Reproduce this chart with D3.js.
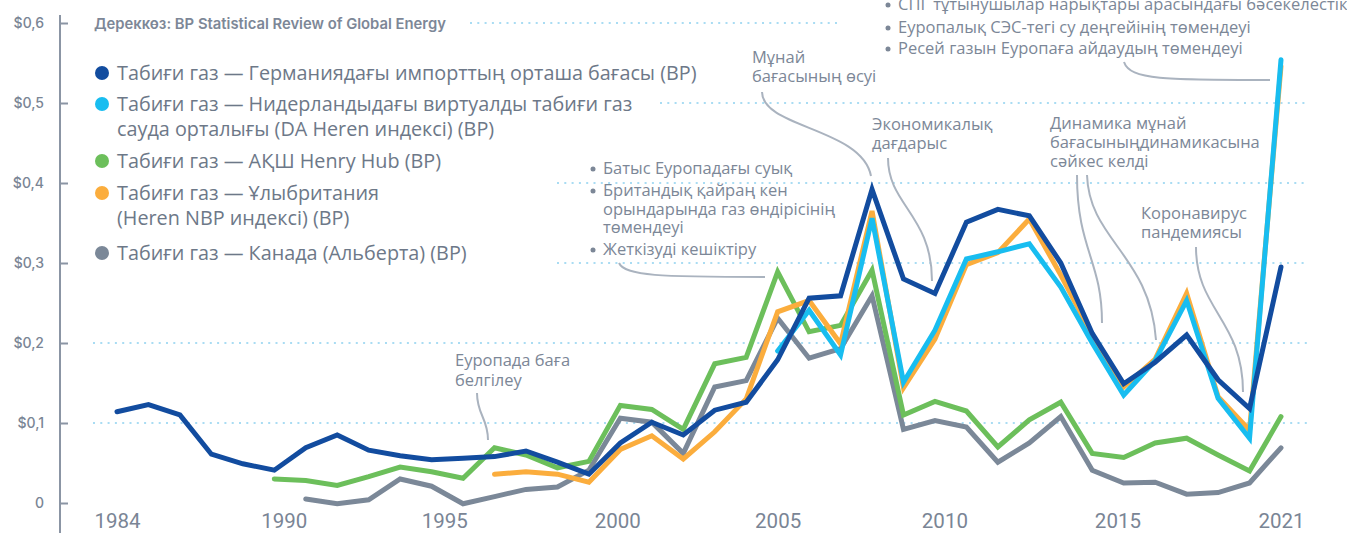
<!DOCTYPE html>
<html>
<head>
<meta charset="utf-8">
<script src="https://cdn.jsdelivr.net/npm/d3@7"></script>
<style>
  body { margin: 0; background: #fff; }
  svg { display: block; }
  .note { font-family: "Open Sans", sans-serif; font-size: 16.5px; fill: #7c8797; }
  .legend text { font-family: "Open Sans", sans-serif; font-size: 19.8px; fill: #6d7888; }
</style>
</head>
<body>
<div id="chart-area"></div>
<script>
// years on the x axis
const years = d3.range(1984, 2022);

// prices, $; null = no data
const germany = [0.114, 0.123, 0.110, 0.061, 0.049, 0.041, 0.069, 0.085, 0.066, 0.059,
  0.054, 0.056, 0.058, 0.065, 0.051, 0.036, 0.075, 0.101, 0.085, 0.116,
  0.126, 0.179, 0.256, 0.259, 0.392, 0.280, 0.262, 0.351, 0.367, 0.359,
  0.300, 0.212, 0.149, 0.176, 0.210, 0.154, 0.118, 0.295];
const netherlands = [null, null, null, null, null, null, null, null, null, null,
  null, null, null, null, null, null, null, null, null, null,
  null, 0.190, 0.241, 0.185, 0.356, 0.151, 0.216, 0.305, 0.314, 0.324,
  0.270, 0.200, 0.135, 0.178, 0.253, 0.131, 0.081, 0.554];
const henryHub = [null, null, null, null, null, 0.030, 0.028, 0.022, 0.033, 0.045,
  0.039, 0.031, 0.069, 0.060, 0.044, 0.052, 0.122, 0.117, 0.092, 0.174,
  0.182, 0.289, 0.214, 0.222, 0.291, 0.110, 0.127, 0.115, 0.070, 0.104,
  0.126, 0.062, 0.057, 0.075, 0.081, 0.060, 0.040, 0.108];
const ukNbp = [null, null, null, null, null, null, null, null, null, null,
  null, null, 0.036, 0.039, 0.036, 0.026, 0.067, 0.084, 0.055, 0.089,
  0.130, 0.239, 0.253, 0.199, 0.365, 0.144, 0.205, 0.298, 0.313, 0.355,
  0.285, 0.210, 0.145, 0.180, 0.262, 0.133, 0.091, 0.546];
const canada = [null, null, null, null, null, null, 0.005, -0.001, 0.004, 0.030,
  0.021, -0.001, 0.008, 0.017, 0.020, 0.041, 0.106, 0.101, 0.062, 0.145,
  0.153, 0.231, 0.181, 0.193, 0.259, 0.092, 0.103, 0.095, 0.051, 0.075,
  0.108, 0.041, 0.025, 0.026, 0.011, 0.013, 0.025, 0.069];

const seriesNames = [
  ["Табиғи газ — Германиядағы импорттың орташа бағасы (BP)"],
  ["Табиғи газ — Нидерландыдағы виртуалды табиғи газ", "сауда орталығы (DA Heren индексі) (BP)"],
  ["Табиғи газ — АҚШ Henry Hub (BP)"],
  ["Табиғи газ — Ұлыбритания", "(Heren NBP индексі) (BP)"],
  ["Табиғи газ — Канада (Альберта) (BP)"]
];
const seriesColors = ["#124c9f", "#18bdf0", "#6cbf5b", "#fbad3d", "#7b8898"];

const yTicks = [0, 0.1, 0.2, 0.3, 0.4, 0.5, 0.6];
const yTickLabels = ["0", "$0,1", "$0,2", "$0,3", "$0,4", "$0,5", "$0,6"];
// x labels, and where the picture puts them on the year scale
const xTickLabels = ["1984", "1990", "1995", "2000", "2005", "2010", "2015", "2021"];
const xTickAt = [1984, 1989.3, 1994.4, 1999.9, 2005, 2010.3, 2015.8, 2021];

const source = "Дереккөз: BP Statistical Review of Global Energy";

const width = 1347, height = 533;

const svg = d3.select("#chart-area")
  .append("svg")
  .attr("width", width)
  .attr("height", height);

let x = d3.scaleLinear().domain([1984, 2021]).range([117, 1281]);
let y = d3.scaleLinear().domain([0, 0.6]).range([503, 23]);

// ---- dotted grid ----
const gridFrom = {0.1: 93, 0.2: 93, 0.3: 557, 0.4: 557, 0.5: 660, 0.6: 470};
const gridTo = {0.1: 1308, 0.2: 1308, 0.3: 1308, 0.4: 1308, 0.5: 1308, 0.6: 840};
svg.append("g")
  .selectAll("line")
  .data(yTicks.filter(d => d > 0))
  .enter()
  .append("line")
  .attr("x1", d => gridFrom[d])
  .attr("x2", d => gridTo[d])
  .attr("y1", d => y(d))
  .attr("y2", d => y(d))
  .attr("stroke", "#a9dcf3")
  .attr("stroke-width", 2)
  .attr("stroke-dasharray", "2 5.3");

// ---- y axis ----
let yAxis = d3.axisLeft(y)
  .tickValues(yTicks)
  .tickSizeInner(-8)
  .tickSizeOuter(0)
  .tickPadding(16)
  .tickFormat((d, i) => yTickLabels[i]);

let yAxisGroup = svg.append("g")
  .attr("class", "y-axis")
  .attr("transform", "translate(60,0)")
  .call(yAxis);
yAxisGroup.select(".domain").remove();
yAxisGroup.selectAll(".tick line").attr("stroke", "#8b95a4").attr("stroke-width", 2);
yAxisGroup.selectAll(".tick text")
  .attr("fill", "#7a8595")
  .style("font-family", "Inter, sans-serif")
  .style("font-size", "14px")
  .style("font-weight", 500);
yAxisGroup.append("line")
  .attr("y1", 15).attr("y2", height)
  .attr("stroke", "#8b95a4").attr("stroke-width", 2);

// ---- x axis ----
let xAxis = d3.axisBottom(x)
  .tickValues(xTickAt)
  .tickSize(0)
  .tickFormat((d, i) => xTickLabels[i]);

let xAxisGroup = svg.append("g")
  .attr("class", "x-axis")
  .call(xAxis);
xAxisGroup.select(".domain").remove();
xAxisGroup.selectAll(".tick text")
  .attr("y", 528)
  .attr("dy", 0)
  .attr("fill", "#7a8595")
  .style("font-family", "Roboto, sans-serif")
  .style("font-size", "20.5px")
  .style("font-weight", 400);

// ---- annotation leaders ----
const leaders = [
  "M1124,62 C1130,80 1165,80 1270,80",
  "M762,92 C762,128 862,128 871,176",
  "M888,158 C888,205 932,215 932,281",
  "M1077,175 C1077,250 1102,260 1102,323",
  "M1087,175 C1089,240 1150,255 1156,340",
  "M1196,247 C1196,310 1243,320 1243,392",
  "M619,263 C625,276 660,277 765,277",
  "M477,393 C477,415 488,418 488,440"
];
svg.append("g")
  .selectAll("path")
  .data(leaders)
  .enter()
  .append("path")
  .attr("d", d => d)
  .attr("fill", "none")
  .attr("stroke", "#aab3bf")
  .attr("stroke-width", 2);

// ---- lines ----
const allSeries = [canada, henryHub, ukNbp, netherlands, germany];
const allColors = [seriesColors[4], seriesColors[2], seriesColors[3], seriesColors[1], seriesColors[0]];

let line = d3.line()
  .defined(d => d[1] !== null)
  .x(d => x(d[0]))
  .y(d => y(d[1]));

svg.append("g")
  .selectAll("path")
  .data(allSeries)
  .enter()
  .append("path")
  .attr("d", s => line(s.map((v, i) => [years[i], v])))
  .attr("fill", "none")
  .attr("stroke", (s, i) => allColors[i])
  .attr("stroke-width", 5)
  .attr("stroke-linejoin", "miter")
  .attr("stroke-linecap", "round");

// ---- source ----
svg.append("text")
  .attr("x", 94)
  .attr("y", 29)
  .attr("fill", "#7d8797")
  .style("font-family", "Inter, sans-serif")
  .style("font-size", "14.8px")
  .style("font-weight", 600)
  .text(source);

// ---- legend ----
const legendY = [73, 104, 161, 193, 253];
let legend = svg.append("g").attr("class", "legend");
seriesNames.forEach((lines, i) => {
  legend.append("circle")
    .attr("cx", 102)
    .attr("cy", legendY[i])
    .attr("r", 7)
    .attr("fill", seriesColors[i]);
  lines.forEach((t, j) => {
    legend.append("text")
      .attr("x", 117)
      .attr("y", legendY[i] + j * 25)
      .attr("dy", "0.35em")
      .text(t);
  });
});

// ---- annotation texts ----
function note(xp, yp, lines, bullets) {
  lines.forEach((t, j) => {
    svg.append("text")
      .attr("class", "note")
      .attr("x", xp)
      .attr("y", yp[j])
      .attr("dy", "0.35em")
      .text(t);
  });
  if (bullets) {
    bullets.forEach(j => {
      svg.append("circle")
        .attr("cx", xp - 10)
        .attr("cy", yp[j] + 1)
        .attr("r", 2.5)
        .attr("fill", "#7c8797");
    });
  }
}

note(898, [4, 27, 48], [
  "СПГ тұтынушылар нарықтары арасындағы бәсекелестік",
  "Еуропалық СЭС-тегі су деңгейінің төмендеуі",
  "Ресей газын Еуропаға айдаудың төмендеуі"
], [0, 1, 2]);
note(752, [57, 76], ["Мұнай", "бағасының өсуі"]);
note(872, [124, 143], ["Экономикалық", "дағдарыс"]);
note(1050, [123, 142, 161], ["Динамика мұнай", "бағасыныңдинамикасына", "сәйкес келді"]);
note(1141, [213, 232], ["Коронавирус", "пандемиясы"]);
note(603, [168, 190, 209, 227, 249], [
  "Батыс Еуропадағы суық",
  "Британдық қайраң кен",
  "орындарында газ өндірісінің",
  "төмендеуі",
  "Жеткізуді кешіктіру"
], [0, 1, 4]);
note(455, [360, 380], ["Еуропада баға", "белгілеу"]);
</script>
</body>
</html>
